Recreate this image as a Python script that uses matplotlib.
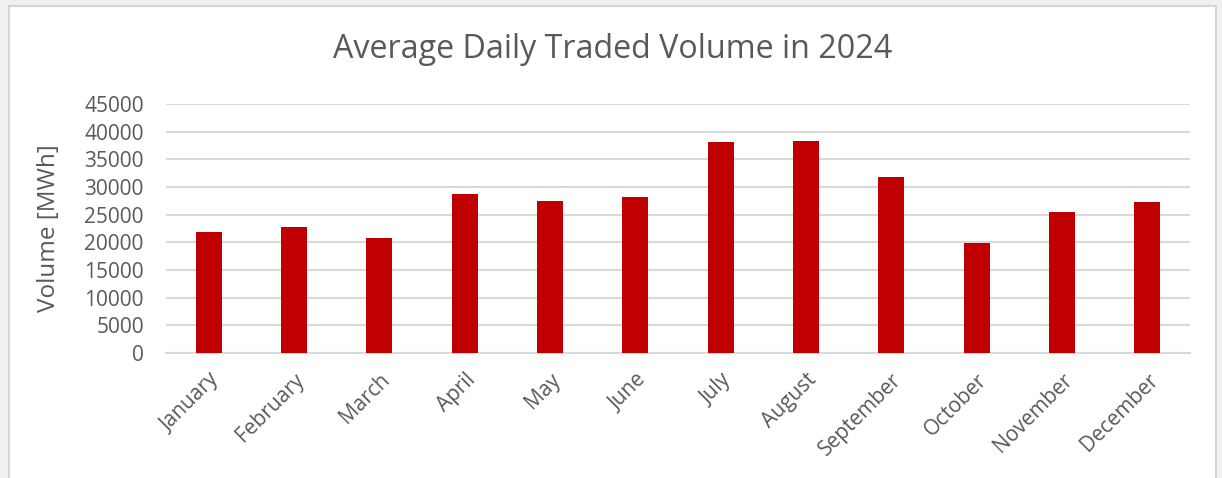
import matplotlib.pyplot as plt
from matplotlib.patches import Rectangle
import numpy as np

# data
months = ['January', 'February', 'March', 'April', 'May', 'June',
          'July', 'August', 'September', 'October', 'November', 'December']
volume_mwh = [21950, 22800, 20750, 28700, 27400, 28200,
              38150, 38350, 31750, 19850, 25550, 27350]
y_ticks = [0, 5000, 10000, 15000, 20000, 25000, 30000, 35000, 40000, 45000]

W, H = 1222, 478
text_color = '#595959'
grid_color = '#d9d9d9'
bar_color = '#c00000'

plt.rcParams['font.family'] = ['Open Sans', 'DejaVu Sans']

fig = plt.figure(figsize=(W / 100, H / 100), dpi=100, facecolor='#f0f0f0')

# white chart panel with a light border, cut off at the bottom
panel = Rectangle((9 / W, -0.02), (1216 - 9) / W, 1.02 - 6 / H,
                  transform=fig.transFigure, facecolor='white',
                  edgecolor='#d4d4d4', linewidth=1.5, zorder=0)
fig.patches.append(panel)

# plot area in pixels: x 166..1190, y 104..353 (top-down)
ax = fig.add_axes([166 / W, (H - 353) / H, (1190 - 166) / W, (353 - 104) / H])
ax.set_zorder(2)
ax.set_facecolor('none')

x = np.arange(len(months))
ax.bar(x, volume_mwh, width=0.305, color=bar_color, zorder=3)

ax.set_xlim(-0.5, len(months) - 0.5)
ax.set_ylim(0, 45000)
ax.set_yticks(y_ticks)
ax.set_yticklabels([str(v) for v in y_ticks], fontsize=15, color=text_color)
ax.set_xticks(x)
ax.set_xticklabels(months, rotation=45, ha='right', rotation_mode='anchor',
                   fontsize=15, color=text_color)
ax.tick_params(axis='both', length=0)
ax.tick_params(axis='y', pad=16)
ax.tick_params(axis='x', pad=12)

ax.grid(axis='y', color=grid_color, linewidth=1.5, zorder=0)
for side in ['top', 'right', 'left']:
    ax.spines[side].set_visible(False)
ax.spines['bottom'].set_color(grid_color)
ax.spines['bottom'].set_linewidth(1.5)

ax.set_ylabel('Volume [MWh]', fontsize=17.5, color=text_color)
ax.yaxis.set_label_coords(-0.1025, 0.5)

fig.text(613 / W, 1 - 49 / H, 'Average Daily Traded Volume in 2024',
         ha='center', va='center', fontsize=23.2, color=text_color, zorder=3)

fig.savefig('out.png', dpi=100, facecolor=fig.get_facecolor())
